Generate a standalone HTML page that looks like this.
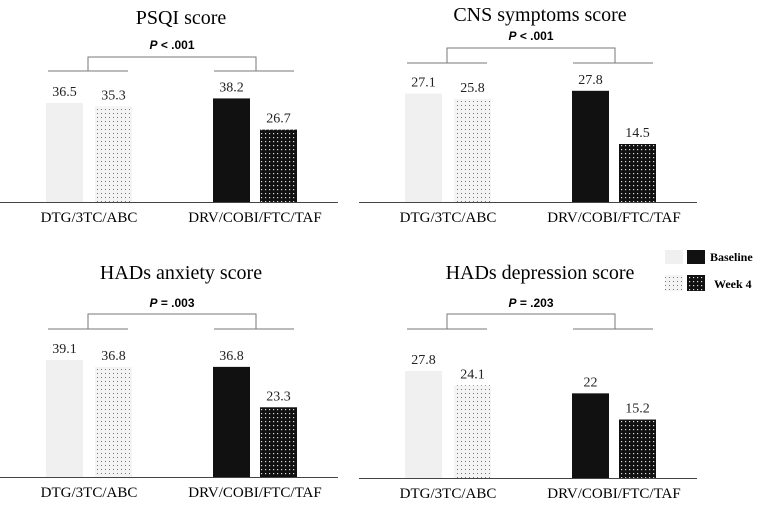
<!DOCTYPE html>
<html><head><meta charset="utf-8"><style>
body{margin:0;background:#fff;}
svg{display:block;}
.t{font-family:"Liberation Serif",serif;}
.s{font-family:"Liberation Sans",sans-serif;}
</style></head><body>
<svg id="c" width="760" height="506" xmlns="http://www.w3.org/2000/svg">
<defs>
<pattern id="pl" width="4" height="4" patternUnits="userSpaceOnUse"><rect width="4" height="4" fill="#f4f4f4"/><rect x="1" y="1" width="1" height="1" fill="#777"/></pattern>
<pattern id="pd" width="4" height="4" patternUnits="userSpaceOnUse"><rect width="4" height="4" fill="#111"/><rect x="1" y="1" width="1.2" height="1.2" fill="#ddd"/></pattern>
</defs>
</svg>
<script>
const titles=["PSQI score","CNS symptoms score","HADs anxiety score","HADs depression score"];
const pvals=["P < .001","P < .001","P = .003","P = .203"];
const categories=["DTG/3TC/ABC","DRV/COBI/FTC/TAF"];
const baselineVals=[[36.5,38.2],[27.1,27.8],[39.1,36.8],[27.8,22]];
const week4Vals=[[35.3,26.7],[25.8,14.5],[36.8,23.3],[24.1,15.2]];
const yMax=[74.5,50.5,67.5,52.5];
const svg=document.getElementById('c');
const NS="http://www.w3.org/2000/svg";
function mk(tag,attrs,parent){const e=document.createElementNS(NS,tag);for(const k in attrs)e.setAttribute(k,attrs[k]);(parent||svg).appendChild(e);return e;}
const layout=[{ox:0,base:202,title:17,p:45,bt:57,bl:71},{ox:359,base:202,title:14,p:36,bt:48,bl:63},{ox:0,base:477,title:272,p:303,bt:314,bl:329},{ox:359,base:478,title:272,p:303,bt:314,bl:329}];
const barX=[[46,95],[213,260]];
const plotH=202;
titles.forEach((tt,i)=>{
 const L=layout[i];
 const g=mk('g',{});
 
 
 const y=v=>L.base-v/yMax[i]*plotH;
 const t=mk('text',{x:L.ox+181,y:L.title+7,'text-anchor':'middle','font-size':'20',class:'t'},g);t.textContent=tt;
 
 
 const p=mk('text',{x:L.ox+172,y:L.p+4,'text-anchor':'middle','font-size':'12','font-weight':'bold',class:'s'},g);
 p.innerHTML='<tspan font-style="italic">'+pvals[i].slice(0,1)+'</tspan>'+pvals[i].slice(1);
 
 
 const br=mk('path',{d:`M${L.ox+88} ${L.bl}V${L.bt}H${L.ox+256}V${L.bl}M${L.ox+48} ${L.bl}H${L.ox+128}M${L.ox+214} ${L.bl}H${L.ox+294}`,stroke:'#777','stroke-width':'1',fill:'none'},g);
 
 
 categories.forEach((c,j)=>{
  const vals=[baselineVals[i][j],week4Vals[i][j]];
  vals.forEach((v,k)=>{
   const fill=j===0?(k===0?'#f0f0f0':'url(#pl)'):(k===0?'#111':'url(#pd)');
   const x=L.ox+barX[j][k];
   const r=mk('rect',{x:x,y:y(v),width:37,height:L.base-y(v),fill:fill},g);
   
   
   const lb=mk('text',{x:x+18.5,y:y(v)-7,'text-anchor':'middle','font-size':'14',class:'t',fill:'#222'},g);lb.textContent=String(v);
   
   
  });
  const cl=mk('text',{x:L.ox+(j===0?89:255),y:L.base+20,'text-anchor':'middle','font-size':'15',class:'t'},g);cl.textContent=c;
  
  
 });
 const ax=mk('line',{x1:L.ox,x2:L.ox+338,y1:L.base+0.5,y2:L.base+0.5,stroke:'#444','stroke-width':'1'},g);
 
 
});
const lg=mk('g',{});


mk('rect',{x:665,y:250,width:18,height:14,fill:'#f0f0f0'},lg);
mk('rect',{x:687,y:250,width:18,height:14,fill:'#111'},lg);
const l1=mk('text',{x:710,y:261,'font-size':'12','font-weight':'bold',class:'t'},lg);l1.textContent='Baseline';


mk('rect',{x:665,y:275,width:18,height:16,fill:'url(#pl)'},lg);
mk('rect',{x:687,y:275,width:18,height:16,fill:'url(#pd)'},lg);
const l2=mk('text',{x:714,y:288,'font-size':'12','font-weight':'bold',class:'t'},lg);l2.textContent='Week 4';


</script>
</body></html>
